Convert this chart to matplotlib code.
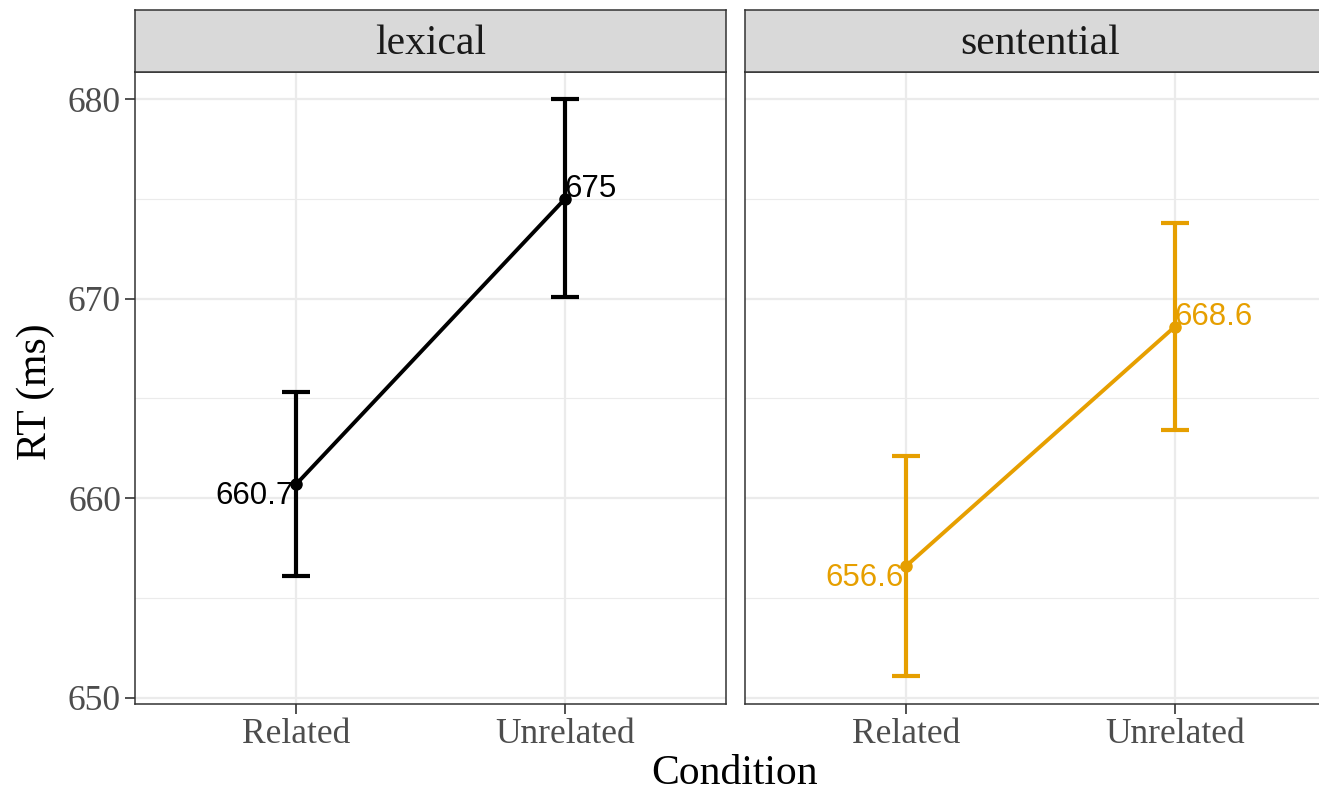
import matplotlib
matplotlib.use("Agg")
import matplotlib.pyplot as plt
import numpy as np

# data
panels = ["lexical", "sentential"]
conditions = ["Related", "Unrelated"]
rt_mean = {"lexical": [660.7, 675.0], "sentential": [656.6, 668.6]}
rt_low = {"lexical": [656.1, 670.1], "sentential": [651.1, 663.4]}
rt_high = {"lexical": [665.3, 680.0], "sentential": [662.1, 673.8]}
labels = {"lexical": ["660.7", "675"], "sentential": ["656.6", "668.6"]}
colors = {"lexical": "black", "sentential": "#E69F00"}

W, H = 1319, 795
fig = plt.figure(figsize=(W / 100, H / 100), dpi=100)
serif = "Liberation Serif"
sans = "Liberation Sans"
grey20 = "#333333"

px_l = [135, 745]
pw = 591
top, bot = 72, 704
strip_top = 10

x = np.arange(1, len(conditions) + 1)
for i, p in enumerate(panels):
    ax = fig.add_axes([px_l[i] / W, (H - bot) / H, pw / W, (bot - top) / H])
    ax.set_xlim(0.4, 2.6)
    ax.set_ylim(649.68, 681.37)
    ax.set_yticks([650, 660, 670, 680])
    ax.set_yticks([655, 665, 675], minor=True)
    ax.set_xticks(x)
    ax.set_xticklabels(conditions, family=serif, fontsize=25.5, color="#4d4d4d")
    ax.grid(True, which="major", color="#ebebeb", lw=1.6)
    ax.grid(True, which="minor", axis="y", color="#ebebeb", lw=0.8)
    ax.set_axisbelow(True)
    ax.tick_params(axis="both", which="major", length=7, width=1.2, color=grey20, pad=3)
    ax.tick_params(axis="y", which="minor", length=0)
    if i == 0:
        for t in ax.get_yticklabels():
            t.set_family(serif)
            t.set_fontsize(25.5)
            t.set_color("#4d4d4d")
    else:
        ax.tick_params(axis="y", which="major", length=0, labelleft=False)
    for s in ax.spines.values():
        s.set_color(grey20)
        s.set_linewidth(1.1)

    c = colors[p]
    m = np.array(rt_mean[p])
    lo = np.array(rt_low[p])
    hi = np.array(rt_high[p])
    ax.errorbar(x, m, yerr=[m - lo, hi - m], fmt="none", ecolor=c,
                elinewidth=3, capsize=10, capthick=3, zorder=3)
    ax.plot(x, m, color=c, lw=2.8, marker="o", ms=8, zorder=4)
    ax.text(x[0] - 0.01, m[0] - 0.6, labels[p][0], ha="right", va="center",
            family=sans, fontsize=22.5, color=c, zorder=5)
    ax.text(x[1], m[1] + 0.5, labels[p][1], ha="left", va="center",
            family=sans, fontsize=22.5, color=c, zorder=5)

    sax = fig.add_axes([px_l[i] / W, (H - top) / H, pw / W, (top - strip_top) / H])
    sax.set_facecolor("#d9d9d9")
    sax.set_xticks([])
    sax.set_yticks([])
    for s in sax.spines.values():
        s.set_color(grey20)
        s.set_linewidth(1.1)
    sax.text(0.5, 0.45, p, ha="center", va="center", family=serif,
             fontsize=30, color="#1a1a1a", transform=sax.transAxes)

fig.text(36 / W, 1 - 392 / H, "RT (ms)", rotation=90, ha="center", va="center",
         family=serif, fontsize=30)
fig.text(735 / W, 1 - 774 / H, "Condition", ha="center", va="center",
         family=serif, fontsize=30)

fig.savefig("out.png", dpi=100)
